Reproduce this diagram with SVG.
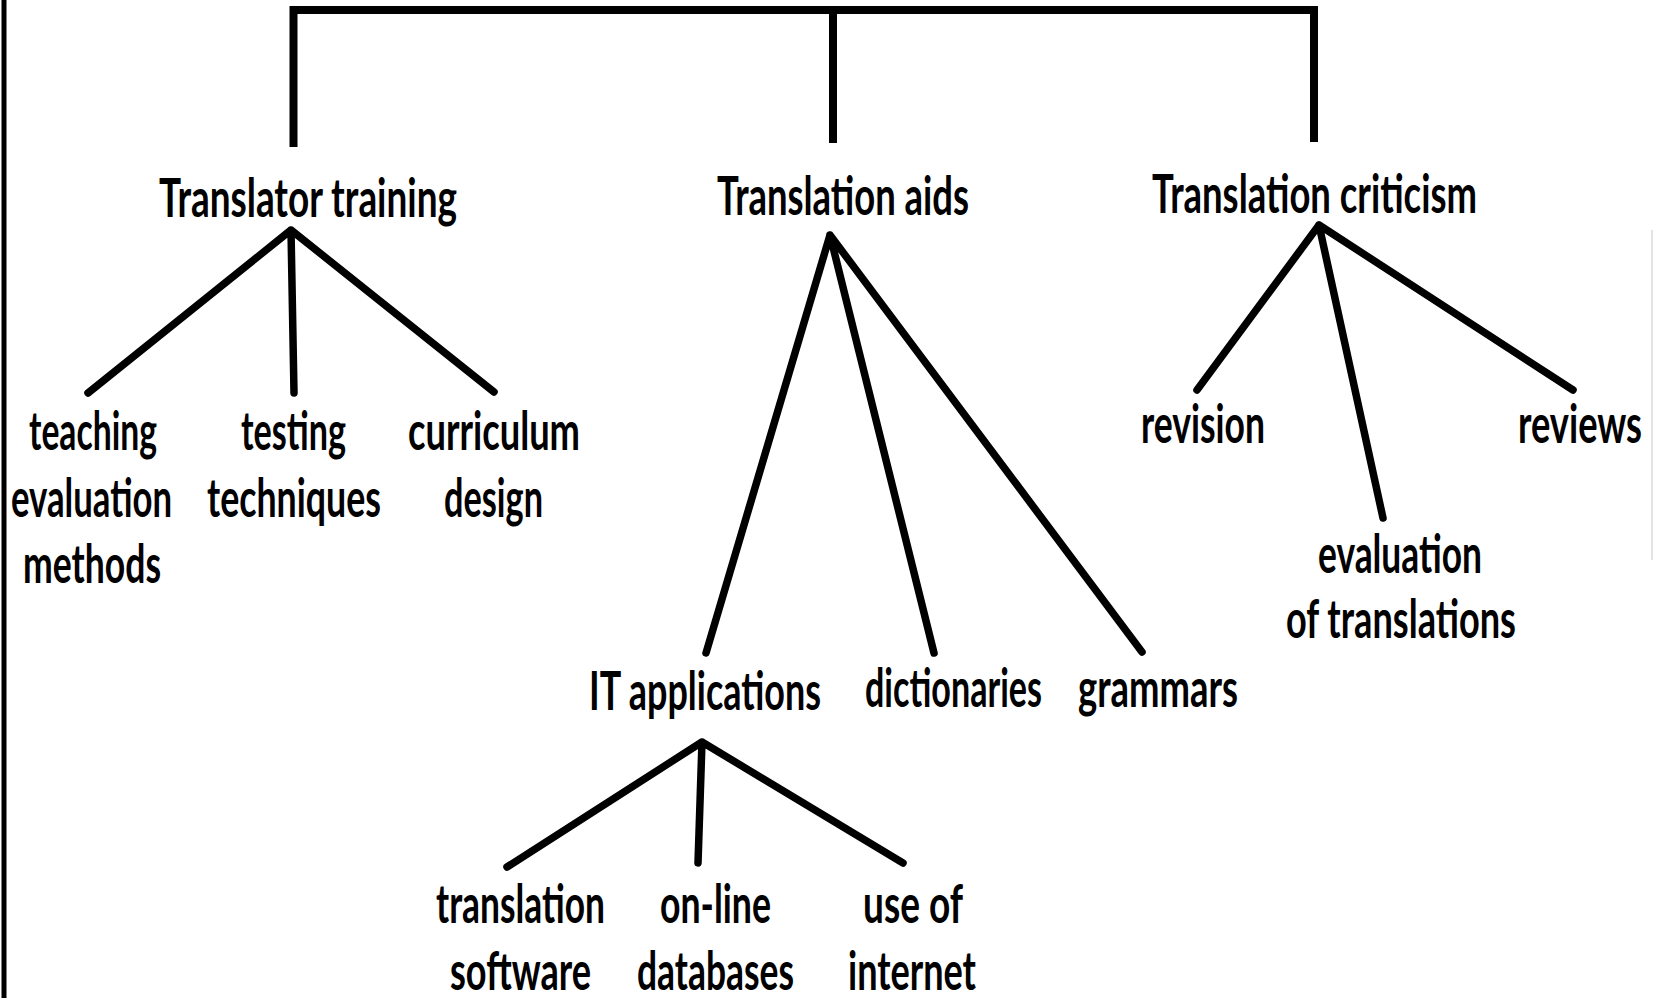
<svg xmlns="http://www.w3.org/2000/svg" width="1655" height="998" viewBox="0 0 1655 998">
  <style>
    .lbl { font-family: "Lato", "Open Sans", "Liberation Sans", sans-serif; font-size: 54px; font-weight: 700; fill: #000; }
    .edge { fill: none; stroke: #000; stroke-width: 7.5; stroke-linecap: round; stroke-linejoin: round; }
    .bracket { fill: none; stroke: #000; stroke-width: 8; stroke-linecap: butt; stroke-linejoin: miter; }
  </style>
  <rect width="1655" height="998" fill="#fff"/>

  <!-- page frame -->
  <g id="frame">
    <line x1="4" y1="0" x2="4" y2="998" stroke="#000" stroke-width="5"/>
    <line x1="1652" y1="230" x2="1652" y2="560" stroke="#e4e4e4" stroke-width="2"/>
  </g>

  <!-- connectors -->
  <g id="connectors">
    <path class="bracket" d="M293.5,147 V10 H1314 V142"/>
    <line class="bracket" x1="833" y1="10" x2="833" y2="143"/>

    <path class="edge" d="M88,393 L291,230 L494,392 M291,230 L294,393"/>
    <path class="edge" d="M706,653 L830,235 L1142,652 M830,235 L934,653"/>
    <path class="edge" d="M1197,390 L1319,225 L1573,390 M1319,225 L1383,518"/>
    <path class="edge" d="M507,867 L702,742 L903,863 M702,742 L698,863"/>
  </g>

  <g id="translator-training">
    <text class="lbl" x="159" y="217" textLength="298" lengthAdjust="spacingAndGlyphs">Translator training</text>
  </g>
  <g id="translation-aids">
    <text class="lbl" x="717" y="215" textLength="252" lengthAdjust="spacingAndGlyphs">Translation aids</text>
  </g>
  <g id="translation-criticism">
    <text class="lbl" x="1152" y="213" textLength="325" lengthAdjust="spacingAndGlyphs">Translation criticism</text>
  </g>

  <g id="teaching-evaluation-methods">
    <text class="lbl" x="29" y="450" textLength="128" lengthAdjust="spacingAndGlyphs">teaching</text>
    <text class="lbl" x="11" y="517" textLength="161" lengthAdjust="spacingAndGlyphs">evaluation</text>
    <text class="lbl" x="23" y="583" textLength="138" lengthAdjust="spacingAndGlyphs">methods</text>
  </g>
  <g id="testing-techniques">
    <text class="lbl" x="241" y="450" textLength="105" lengthAdjust="spacingAndGlyphs">testing</text>
    <text class="lbl" x="207" y="517" textLength="174" lengthAdjust="spacingAndGlyphs">techniques</text>
  </g>
  <g id="curriculum-design">
    <text class="lbl" x="408" y="450" textLength="172" lengthAdjust="spacingAndGlyphs">curriculum</text>
    <text class="lbl" x="444" y="517" textLength="99" lengthAdjust="spacingAndGlyphs">design</text>
  </g>

  <g id="it-applications">
    <text class="lbl" x="589" y="710" textLength="232" lengthAdjust="spacingAndGlyphs">IT applications</text>
  </g>
  <g id="dictionaries">
    <text class="lbl" x="865" y="707" textLength="177" lengthAdjust="spacingAndGlyphs">dictionaries</text>
  </g>
  <g id="grammars">
    <text class="lbl" x="1078" y="707" textLength="160" lengthAdjust="spacingAndGlyphs">grammars</text>
  </g>

  <g id="revision">
    <text class="lbl" x="1141" y="443" textLength="124" lengthAdjust="spacingAndGlyphs">revision</text>
  </g>
  <g id="evaluation-of-translations">
    <text class="lbl" x="1318" y="573" textLength="164" lengthAdjust="spacingAndGlyphs">evaluation</text>
    <text class="lbl" x="1286" y="638" textLength="230" lengthAdjust="spacingAndGlyphs">of translations</text>
  </g>
  <g id="reviews">
    <text class="lbl" x="1518" y="443" textLength="124" lengthAdjust="spacingAndGlyphs">reviews</text>
  </g>

  <g id="translation-software">
    <text class="lbl" x="436" y="923" textLength="169" lengthAdjust="spacingAndGlyphs">translation</text>
    <text class="lbl" x="450" y="990" textLength="141" lengthAdjust="spacingAndGlyphs">software</text>
  </g>
  <g id="on-line-databases">
    <text class="lbl" x="660" y="923" textLength="111" lengthAdjust="spacingAndGlyphs">on-line</text>
    <text class="lbl" x="637" y="990" textLength="157" lengthAdjust="spacingAndGlyphs">databases</text>
  </g>
  <g id="use-of-internet">
    <text class="lbl" x="863" y="923" textLength="100" lengthAdjust="spacingAndGlyphs">use of</text>
    <text class="lbl" x="848" y="990" textLength="128" lengthAdjust="spacingAndGlyphs">internet</text>
  </g>
</svg>
